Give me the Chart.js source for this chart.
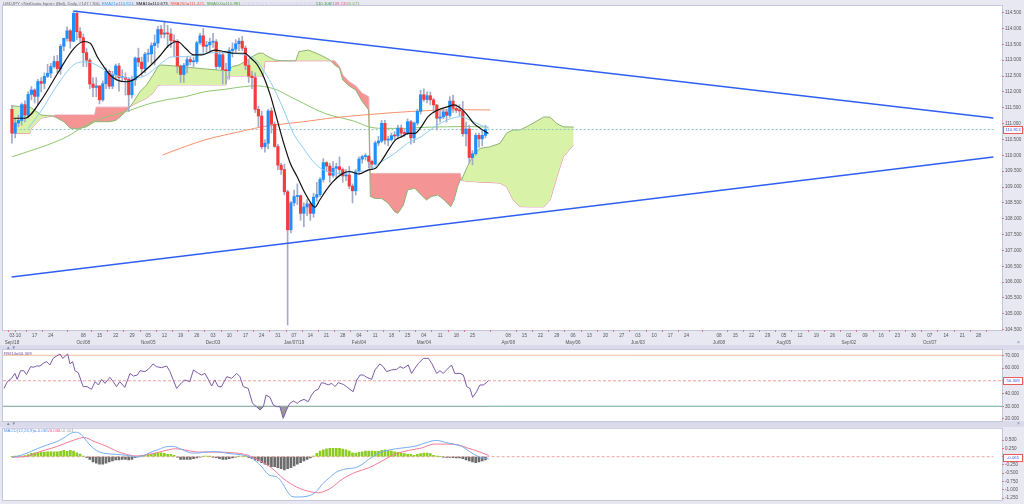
<!DOCTYPE html>
<html lang="en">
<head>
<meta charset="UTF-8" />
<title>USDJPY Daily</title>
<script src="https://cdn.jsdelivr.net/npm/chart.js"></script>
<style>
  body { margin:0; width:1024px; height:504px; overflow:hidden; position:relative; background:#e8e8f3; font-family:"Liberation Sans", Arial, sans-serif; }
  canvas { position:absolute; left:0; }
  .strip { position:absolute; left:0; width:1024px; background:#dadaea; }
  .hdr { position:absolute; font-size:4.3px; line-height:5px; white-space:nowrap; color:#666; }
  .box { position:absolute; left:1003px; width:18px; height:6px; border:1px solid #e65a5a; background:#fff; color:#3a55e0; font-size:4.3px; line-height:6px; text-align:center; }
  .arr { position:absolute; left:6px; font-size:4.5px; color:#7a88aa; letter-spacing:1px; }
  .cls { position:absolute; left:1017px; font-size:5px; color:#7a88b8; }
</style>
</head>
<body>
  <div class="strip" style="top:345px;height:5px"></div>
  <div class="strip" style="top:421px;height:6px"></div>

  <canvas id="mainChart" width="1024" height="347" style="top:0"></canvas>
  <canvas id="rsiChart" width="1024" height="85" style="top:340px"></canvas>
  <canvas id="macdChart" width="1024" height="79" style="top:425px"></canvas>

  <div class="hdr" style="left:3px;top:0.5px">USDJPY &lt;NetDania fxpro&gt; (Bid), Daily, #147 / 300, <span style="color:#3aa2f0">EMA21=110.824</span>, <span style="color:#111">SMA10=110.673</span>, <span style="color:#f0522a">SMA200=111.421</span>, <span style="color:#4a9c3a">SMA100=110.881</span> <span style="color:#cfd0e2">ICHIMOKU(9,26,52)=110.826/110.820/</span><span style="color:#2f8a2f">110.106</span><span style="color:#e0588c">/109.135</span><span style="color:#7ab04a">/0.071</span></div>
  <div class="hdr" style="left:4px;top:351px;color:#6a4a9c">RSI14=50.309</div>
  <div class="hdr" style="left:4px;top:428px"><span style="color:#4a8ef0">MACD(12,26,9)=-0.065</span><span style="color:#f0507a">/0.036</span><span style="color:#999">/-0.101</span></div>

  <div class="arr" style="top:344.5px">▲▼</div>
  <div class="arr" style="top:421px">▲▼</div>
  <div class="cls" style="top:339px">×</div>
  <div class="cls" style="top:420px">×</div>

  <div class="box" style="top:125.5px">110.813</div>
  <div class="box" style="top:376.5px">50.309</div>
  <div class="box" style="top:453.5px">-0.065</div>

<script>
// daily candles, one per trading day (index 0 = Sep 6 2018, 146 = Mar 29 2019)
const open = [111.45,110.70,111.02,111.10,111.60,111.27,111.92,112.06,111.86,112.33,
  112.27,112.49,112.59,112.80,112.96,112.73,113.44,113.69,113.93,113.60,
  114.48,113.90,113.71,113.24,113.00,112.25,112.14,112.19,111.75,112.26,
  112.65,112.18,112.54,112.82,112.45,112.46,112.40,111.91,112.38,113.07,
  112.94,112.73,113.19,113.20,113.46,113.54,113.97,113.82,113.86,113.83,
  113.62,113.59,112.82,112.55,112.84,113.02,112.95,112.96,113.55,113.77,
  113.44,113.48,113.57,113.58,112.80,113.17,112.70,112.67,113.30,113.35,
  113.52,113.60,113.38,112.84,112.50,112.45,111.45,111.24,110.27,110.38,
  111.40,110.98,110.28,109.69,109.55,108.85,107.65,108.50,108.70,108.73,
  108.17,108.37,108.47,108.17,108.68,108.76,109.24,109.77,109.66,109.37,
  109.59,109.64,109.55,109.35,109.38,109.03,108.88,109.50,109.88,109.96,
  109.97,109.81,109.72,110.39,110.45,111.01,110.48,110.50,110.62,110.61,
  110.86,110.70,110.69,111.06,110.55,111.02,111.39,111.91,111.76,111.88,
  111.75,111.59,111.17,111.21,111.37,111.26,111.71,111.48,111.42,111.40,
  110.68,110.83,109.93,110.05,110.63,110.52,110.63];
const high = [111.58,111.15,111.27,111.65,111.72,112.00,112.17,112.10,112.40,112.45,
  112.60,112.87,112.90,113.13,113.15,113.50,113.70,114.05,113.97,114.55,
  114.55,114.03,113.83,113.37,113.05,112.45,112.45,112.20,112.35,112.75,
  112.70,112.65,112.88,112.90,112.70,112.60,112.45,112.50,113.10,113.38,
  113.10,113.25,113.35,113.55,113.80,114.07,114.10,114.21,114.10,114.00,
  113.80,113.65,112.85,112.90,113.10,113.10,113.10,113.60,113.85,114.00,
  113.60,113.70,113.85,113.65,113.30,113.25,112.90,113.40,113.55,113.65,
  113.70,113.75,113.45,113.00,112.65,112.60,111.55,111.40,110.50,111.45,
  111.50,111.05,110.35,109.75,109.72,108.90,108.55,108.90,109.10,108.75,
  108.50,108.60,108.50,108.80,109.15,109.30,109.90,109.80,109.75,109.80,
  109.75,109.95,109.60,109.55,109.65,109.10,109.55,109.95,110.00,110.05,
  110.00,109.85,110.45,110.60,111.10,111.10,110.60,110.70,110.75,110.95,
  110.95,110.80,111.15,111.10,111.05,111.45,112.05,112.10,112.00,112.00,
  111.80,111.60,111.40,111.45,111.45,111.85,111.90,111.60,111.60,111.70,
  111.05,110.95,110.15,110.70,110.70,110.80,110.95];
const low = [110.38,110.55,110.90,110.95,111.05,111.20,111.75,111.65,111.60,112.00,
  112.10,112.45,112.45,112.75,112.60,112.55,113.30,113.60,113.38,113.58,
  113.65,113.58,112.80,112.80,112.10,111.85,111.85,111.62,111.70,112.10,
  112.10,112.10,112.40,112.02,112.35,111.90,111.38,111.80,112.20,112.80,
  112.50,112.60,112.95,112.90,112.85,113.40,113.70,113.70,113.40,113.40,
  113.10,112.60,112.30,112.30,112.60,112.85,112.80,112.90,113.50,113.25,
  113.25,113.25,113.40,112.70,112.75,112.25,112.25,112.40,113.10,113.25,
  113.30,113.30,112.70,112.30,112.10,111.35,110.90,110.20,110.10,110.20,
  110.70,110.25,109.55,109.40,108.75,104.65,107.55,108.40,108.45,107.95,
  107.75,108.10,107.95,108.05,108.55,108.70,109.15,109.50,109.15,109.30,
  109.30,109.40,109.15,109.20,108.95,108.50,108.75,109.40,109.75,109.85,
  109.60,109.55,109.70,110.30,110.40,110.35,110.30,110.45,110.50,110.55,
  110.60,110.60,110.65,110.35,110.40,110.95,111.30,111.70,111.65,111.60,
  111.35,110.80,111.05,111.15,111.05,111.20,111.35,111.35,111.25,110.60,
  110.30,109.75,109.70,110.00,110.25,110.30,110.55];
const close = [110.70,111.02,111.10,111.60,111.27,111.92,112.06,111.86,112.33,112.27,
  112.49,112.59,112.80,112.96,112.73,113.44,113.69,113.93,113.60,114.48,
  113.90,113.71,113.24,113.00,112.25,112.14,112.19,111.75,112.26,112.65,
  112.18,112.54,112.82,112.45,112.46,112.40,111.91,112.38,113.07,112.94,
  112.73,113.19,113.20,113.46,113.54,113.97,113.82,113.86,113.83,113.62,
  113.59,112.82,112.55,112.84,113.02,112.95,112.96,113.55,113.77,113.44,
  113.48,113.57,113.58,112.80,113.17,112.70,112.67,113.30,113.35,113.52,
  113.60,113.38,112.84,112.50,112.45,111.45,111.24,110.27,110.38,111.40,
  110.98,110.28,109.69,109.55,108.85,107.65,108.50,108.70,108.73,108.17,
  108.37,108.47,108.17,108.68,108.76,109.24,109.77,109.66,109.37,109.59,
  109.64,109.55,109.35,109.38,109.03,108.88,109.50,109.88,109.96,109.97,
  109.81,109.72,110.39,110.45,111.01,110.48,110.50,110.62,110.61,110.86,
  110.70,110.69,111.06,110.55,111.02,111.39,111.91,111.76,111.88,111.75,
  111.59,111.17,111.21,111.37,111.26,111.71,111.48,111.42,111.40,110.68,
  110.83,109.93,110.05,110.63,110.52,110.63,110.81];

// moving averages: [day index, price]
const sma10 = [[0.5,111.17],[4,111.17],[9.1,111.75],[14.1,112.59],[19.2,113.38],[22.2,113.59],[24.2,113.53],
  [26.3,113.11],[28.3,112.80],[30.3,112.53],[32.3,112.38],[35.3,112.32],[37.4,112.38],[39.4,112.53],
  [42.4,112.80],[45.4,113.11],[48.5,113.48],[51,113.59],[53.5,113.38],[56,113.17],[58.6,113.17],
  [62.6,113.32],[65.6,113.27],[68.7,113.22],[71.7,113.22],[73.7,113.06],[75.7,112.85],[77.8,112.43],
  [79.8,111.85],[81.8,111.11],[83.8,110.38],[85.8,109.75],[87.9,109.33],[89.9,108.90],[91.9,108.54],
  [93.4,108.36],[94.9,108.59],[96.9,108.90],[99,109.17],[102,109.43],[104,109.49],[107,109.41],
  [110,109.54],[112.1,109.59],[114.1,109.85],[116.1,110.17],[118.2,110.48],[120.2,110.59],[122.2,110.69],
  [124.2,110.69],[126.2,110.90],[128.3,111.22],[131.3,111.43],[134.3,111.53],[136.3,111.59],[138.4,111.48],
  [140.4,111.27],[142.4,111.01],[144.4,110.85],[146.9,110.69]];
const ema21 = [[5,110.85],[9,111.40],[14,112.22],[19,112.85],[23,112.95],[26,112.85],[29.3,112.65],
  [33.3,112.48],[37.4,112.43],[41.4,112.53],[45.4,112.85],[49.5,113.11],[53.5,113.11],[56.6,113.17],
  [59.6,113.22],[63.6,113.24],[67.7,113.22],[71.7,113.17],[74.7,113.06],[77.8,112.65],[80.8,112.10],
  [83.8,111.43],[86.8,110.69],[89.9,110.22],[92.9,109.80],[96,109.54],[99,109.45],[102,109.43],
  [106,109.48],[110,109.54],[114,109.80],[118,110.06],[122,110.38],[126.2,110.59],[130.3,110.90],
  [134.3,111.12],[138.4,111.22],[141.4,111.10],[144.4,110.96],[146.9,110.85]];
const sma100 = [[0,109.95],[5,110.12],[11,110.33],[17,110.59],[23,110.96],[29.3,111.22],[35.3,111.38],
  [41.4,111.60],[47.5,111.75],[53.5,111.85],[59.6,112.01],[65.6,112.08],[71.7,112.17],[75.7,112.19],
  [77.8,112.17],[81.8,112.06],[85.8,111.85],[89.9,111.64],[94,111.43],[98,111.27],[102,111.17],
  [106,111.06],[110,110.90],[114,110.85],[122,110.85],[126,110.88],[134.3,110.90],[140,110.91],[147,110.89]];
const sma200 = [[46.4,110.01],[53.5,110.28],[59.6,110.49],[65.6,110.64],[71.7,110.78],[77.8,110.91],
  [83.8,110.99],[89.9,111.06],[98,111.17],[108,111.27],[118,111.35],[128.3,111.41],[138.4,111.44],[147.5,111.43]];

// ichimoku cloud edges: [day index, span A, span B]
const cloud = [[0,111.56,110.69],[5.5,111.52,110.69],[6,111.50,110.85],[9,111.27,111.17],[12.5,111.24,111.24],
  [13.5,111.20,111.27],[16,111.06,111.27],[18,110.85,111.27],[21,110.85,111.27],[23,110.90,111.27],
  [25.5,111.06,111.27],[26,111.06,111.52],[30,111.06,111.52],[32,111.10,111.52],[34,111.27,111.52],
  [36.3,111.52,111.52],[37.5,111.69,111.60],[39.5,112.01,111.70],[41.5,112.22,111.80],[43.5,112.53,111.96],
  [45,112.80,112.20],[46,112.85,112.22],[50,112.82,112.22],[55,112.77,112.22],[60,112.72,112.22],
  [66,112.67,112.22],[66.5,112.67,112.50],[68,112.80,112.50],[70,112.85,112.50],[72,112.96,112.50],
  [74,113.11,112.50],[76,113.22,112.50],[77.5,113.22,112.50],[78,113.17,112.96],[81,113.01,112.96],
  [83.3,112.98,112.98],[87.5,112.98,112.98],[88.5,113.27,112.98],[91.4,113.32,112.98],[95,113.17,112.98],
  [98,113.01,112.98],[99.5,112.85,112.98],[101,112.75,112.80],[102,112.38,112.53],[104,112.19,112.32],
  [106,112.06,112.19],[108,111.70,111.96],[110,111.43,111.85],[110.5,108.70,109.43],[112,108.64,109.43],
  [114,108.64,109.43],[116,108.49,109.43],[118,108.22,109.43],[119,108.17,109.43],[120.7,108.43,109.43],
  [122,108.91,109.43],[124.2,108.96,109.43],[126.2,108.75,109.43],[127.8,108.59,109.43],[129.3,108.70,109.43],
  [131.3,108.75,109.43],[133.3,108.59,109.43],[135.3,108.38,109.43],[136.3,108.59,109.43],[137.4,109.01,109.43],
  [138.2,109.22,109.43],[138.6,109.22,109.22],[140.4,109.64,109.17],[142.4,110.04,109.17],[144.4,110.22,109.15],
  [147.5,110.27,109.14],[150.5,110.38,109.12],[152.5,110.70,109.01],[154.5,110.80,108.60],[156.6,110.80,108.38],
  [159.6,110.95,108.37],[164,111.21,108.37],[166,111.20,108.60],[168,111.00,109.30],[170,110.90,109.95],
  [173.2,110.89,110.33]];

// trend lines and last price
const trendUpper = [[19,114.55],[302.6,111.18]];
const trendLower = [[-0.1,106.16],[302.6,109.95]];
const lastPrice = 110.813;

// RSI(14): [day index, value]
const rsi = [[0.2,44.0],[1.2,49.3],[2.5,51.9],[3.5,55.8],[4.2,51.1],[5.2,57.9],[6.2,57.9],[7,55.0],[8.3,61.1],
  [9.1,60.6],[10.1,61.6],[11.1,61.6],[12.1,63.7],[13.1,65.0],[14.1,62.4],[15.1,67.6],[16.1,69.4],[17.2,71.0],
  [18,67.6],[19.5,71.0],[20.2,63.2],[21,65.0],[21.7,57.9],[22.7,56.4],[24.2,45.4],[25.4,45.4],[26.7,43.3],
  [27.8,49.3],[28.8,46.7],[29.8,51.1],[30.8,48.0],[32.3,52.7],[33.3,49.3],[34.3,45.4],[35.3,49.3],[36.8,44.8],
  [38.4,55.8],[39.4,53.7],[40.6,54.5],[41.4,57.9],[42.9,57.2],[43.9,59.0],[45.4,63.2],[46.4,61.1],[47.9,60.3],
  [49.5,61.6],[50.5,57.2],[51.5,50.6],[52.5,44.0],[54,48.5],[55,50.6],[56.5,49.3],[57.6,58.5],[59.1,55.8],
  [60.1,54.5],[61.1,55.8],[62.1,51.1],[63.1,45.9],[64.1,50.6],[65.1,45.4],[66.1,45.4],[67.7,53.2],[69.2,51.9],
  [70.7,55.8],[71.7,53.2],[72.7,45.4],[74.2,44.0],[75.5,32.3],[76.7,29.7],[77.8,27.1],[78.8,29.7],[79.6,38.8],
  [80.8,37.0],[81.8,31.0],[82.8,29.7],[83.8,29.7],[84.8,20.5],[85.8,27.1],[86.8,32.3],[87.9,34.1],[89.1,32.3],
  [89.9,34.1],[91.1,35.4],[92.4,33.6],[93.4,38.8],[94.4,42.2],[95.4,43.3],[96.4,48.5],[97.4,48.0],[98.4,46.7],
  [99.5,48.0],[100.5,45.4],[101.5,48.5],[103,47.2],[104,45.4],[105,43.3],[106,41.4],[107.1,50.6],[108.1,54.5],
  [109.1,54.5],[110.1,52.7],[111.6,51.1],[112.6,58.5],[114.1,63.2],[115.1,61.1],[116.1,57.2],[117.6,58.5],
  [119.2,59.0],[120.2,61.1],[121.2,59.8],[122.7,62.4],[123.7,55.8],[124.7,59.8],[125.8,63.7],[127.3,67.6],
  [128.8,67.6],[129.8,63.7],[131.3,55.8],[132.3,57.9],[133.3,55.8],[134.3,58.5],[135.8,62.4],[136.8,55.8],
  [138.4,55.8],[139.4,54.5],[140.4,45.4],[141.4,44.0],[142.2,37.0],[143.4,41.4],[144.4,46.7],[145.4,46.7],
  [146.4,48.5],[147,50.3]];

// MACD(12,26,9): lines as [day index, value], histogram one bar per day
const macdLine = [[0,-0.03],[3,0.05],[5,0.12],[8,0.25],[11,0.36],[14,0.46],[16.5,0.60],[18,0.70],[19.5,0.74],
  [21,0.70],[22.3,0.56],[23.8,0.38],[25.3,0.24],[27,0.14],[29.3,0.09],[32.3,0.07],[35.3,0.04],[37.5,0.00],
  [39,-0.01],[41.4,0.07],[43.5,0.16],[45.3,0.22],[47.5,0.30],[49.5,0.31],[51.4,0.26],[53.5,0.17],[55.6,0.11],
  [57.5,0.11],[59.6,0.14],[62,0.15],[64.4,0.14],[66.4,0.10],[69.7,0.07],[72.2,0.03],[73.8,-0.03],[76.8,-0.28],
  [79.2,-0.55],[81.8,-0.62],[83.2,-0.77],[84.7,-1.02],[86.3,-1.20],[88,-1.22],[90,-1.21],[92,-1.17],
  [93.8,-1.06],[95.8,-0.82],[98,-0.63],[100,-0.47],[103,-0.37],[106,-0.33],[108,-0.23],[110,-0.08],
  [113.2,0.11],[116.2,0.20],[120,0.26],[124,0.31],[127,0.40],[129.7,0.48],[131,0.49],[133,0.45],[136,0.38],
  [139,0.30],[141,0.16],[143.5,0.02],[145,-0.04],[147,-0.065]];
const signalLine = [[0,-0.02],[5,0.02],[9,0.165],[14,0.31],[19.3,0.51],[22.3,0.58],[25.3,0.46],[29.3,0.31],
  [32.3,0.165],[35.3,0.07],[38.4,0.02],[42.3,0.07],[46.5,0.165],[50.5,0.24],[53.5,0.20],[57.5,0.14],
  [59.6,0.14],[65.6,0.13],[71.7,0.07],[75.6,-0.08],[79.9,-0.33],[83.8,-0.67],[87.8,-0.92],[92,-1.06],
  [94.4,-1.09],[98,-0.97],[102,-0.67],[106,-0.47],[110.2,-0.33],[114.1,-0.13],[118,0.07],[122.3,0.19],
  [126.2,0.26],[130.2,0.38],[134.4,0.38],[137.5,0.36],[140.5,0.26],[142.3,0.21],[147,0.036]];
const macdHist = [0.00,0.01,0.02,0.02,0.03,0.06,0.10,0.12,0.13,0.14,
  0.14,0.15,0.15,0.15,0.15,0.16,0.19,0.16,0.19,0.17,
  0.12,0.08,0.02,-0.02,-0.08,-0.16,-0.20,-0.23,-0.23,-0.20,
  -0.16,-0.13,-0.10,-0.10,-0.08,-0.08,-0.10,-0.08,-0.03,0.02,
  0.04,0.04,0.06,0.07,0.10,0.12,0.12,0.10,0.07,0.07,
  0.04,-0.01,-0.08,-0.08,-0.08,-0.08,-0.06,-0.04,-0.01,0.01,
  0.02,0.01,-0.01,-0.03,-0.06,-0.08,-0.08,-0.06,-0.04,-0.01,
  0.01,0.02,0.01,-0.02,-0.06,-0.10,-0.13,-0.18,-0.23,-0.26,
  -0.30,-0.30,-0.33,-0.36,-0.40,-0.36,-0.33,-0.28,-0.23,-0.18,
  -0.13,-0.08,-0.04,0.02,0.10,0.17,0.21,0.24,0.25,0.25,
  0.25,0.25,0.23,0.21,0.17,0.12,0.11,0.13,0.15,0.17,
  0.17,0.17,0.16,0.16,0.19,0.21,0.19,0.17,0.15,0.13,
  0.11,0.09,0.07,0.07,0.04,0.07,0.09,0.11,0.11,0.09,
  0.04,0.01,0.00,-0.01,-0.02,-0.02,-0.03,-0.04,-0.04,-0.06,
  -0.10,-0.13,-0.16,-0.18,-0.16,-0.13,-0.10];

// date axis: Monday ticks (future slots run one day later)
const tickIdx = [0,2,7,12,22,27,32,37,42,47,52,57,62,67,72,77,82,87,92,97,102,107,112,117,122,127,132,137,142,
  153,158,163,168,173,178,183,188,193,198,203,208,218,223,228,233,238,243,248,253,258,263,268,273,278,283,288,293,298];
const tickDay = ['03','10','17','24','08','15','22','29','05','12','19','26','03','10','17','24','31','07','14','21','28',
  '04','11','18','25','04','11','18','25','08','15','22','29','06','13','20','27','03','10','17','24','08','15','22','29',
  '05','12','19','26','02','09','16','23','30','07','14','21','28'];
const tickMonth = {0:'Sep/18',22:'Oct/08',42:'Nov/05',62:'Dec/03',87:'Jan/07/19',107:'Feb/04',127:'Mar/04',
  153:'Apr/08',173:'May/06',193:'Jun/03',218:'Jul/08',238:'Aug/05',258:'Sep/02',283:'Oct/07'};

const priceTicks = [104.5,105,105.5,106,106.5,107,107.5,108,108.5,109,109.5,110,110.5,111,111.5,112,112.5,113,113.5,114,114.5];
const rsiTicks = [20,30,40,50,60,70];
const macdTicks = [-1.25,-1,-0.75,-0.5,-0.25,0,0.25,0.5];

const X_MIN = -0.1, X_MAX = 302.6;
const UP = '#1e8fff', DOWN = '#f43c3c';
const tickFont = { size: 4.6, family: '"Liberation Sans", Arial, sans-serif' };

// white plot area with a thin frame
const panelBg = {
  id: 'panelBg',
  beforeDraw(chart) {
    const { ctx, chartArea: a } = chart;
    ctx.save();
    ctx.fillStyle = '#fff';
    ctx.fillRect(a.left, a.top, a.width, a.height);
    ctx.strokeStyle = '#c6c6da';
    ctx.lineWidth = 1;
    ctx.strokeRect(a.left - 0.5, a.top - 0.5, a.width + 1, a.height + 1);
    ctx.restore();
  }
};

const pts = arr => arr.map(p => ({ x: p[0], y: p[1] }));

function line(data, color, width, order, extra) {
  return Object.assign({ type: 'line', data, borderColor: color, borderWidth: width, pointRadius: 0, order }, extra || {});
}
function hLine(v, color, dash, order) {
  return line([{ x: X_MIN, y: v }, { x: X_MAX, y: v }], color, 1, order, { borderDash: dash });
}

function xScale(show) {
  return {
    type: 'linear', min: X_MIN, max: X_MAX, display: show,
    afterBuildTicks: s => { s.ticks = tickIdx.map(v => ({ value: v })); },
    afterFit: s => { s.height = show ? 17 : 0; },
    grid: { drawOnChartArea: false, tickLength: 2, color: '#e47878' },
    border: { display: false },
    ticks: {
      autoSkip: false, maxRotation: 0, padding: 1, color: '#555',
      font: Object.assign({ lineHeight: 1.35 }, tickFont),
      callback: (v, k) => tickMonth[tickIdx[k]] ? [tickDay[k], tickMonth[tickIdx[k]]] : tickDay[k]
    }
  };
}
function yScale(min, max, ticks) {
  return {
    type: 'linear', position: 'right', min, max,
    afterBuildTicks: s => { s.ticks = ticks.map(v => ({ value: v })); },
    afterFit: s => { s.width = 22; },
    grid: { drawOnChartArea: false, tickLength: 2, color: '#e47878' },
    border: { display: false },
    ticks: { autoSkip: false, padding: 1, color: '#555', font: tickFont, callback: v => v.toFixed(3) }
  };
}
function baseOptions(padding, showX, yMin, yMax, yTicks) {
  return {
    responsive: false, animation: false, events: [],
    layout: { autoPadding: false, padding },
    plugins: { legend: { display: false }, tooltip: { enabled: false } },
    scales: { x: xScale(showX), y: yScale(yMin, yMax, yTicks) }
  };
}

// price panel
new Chart(document.getElementById('mainChart'), {
  type: 'line',
  data: {
    datasets: [
      line(pts(trendUpper), '#2f5ff2', 1.5, 0),
      line(pts(trendLower), '#2f5ff2', 1.5, 0),
      line(pts(sma10), '#111', 1.2, 1, { tension: 0.35, cubicInterpolationMode: 'monotone' }),
      line(pts(ema21), '#8dccf6', 1, 2, { tension: 0.35, cubicInterpolationMode: 'monotone' }),
      {
        type: 'bar', order: 3, grouped: false, barThickness: 2.5, minBarLength: 1,
        data: open.map((o, i) => ({ x: i, y: [o, close[i]] })),
        backgroundColor: open.map((o, i) => close[i] >= o ? UP : DOWN)
      },
      {
        type: 'bar', order: 4, grouped: false, barThickness: 1,
        data: low.map((l, i) => ({ x: i, y: [l, high[i]] })),
        backgroundColor: '#a2abc6'
      },
      line(pts(sma200), '#f7916e', 1, 5, { tension: 0.35, cubicInterpolationMode: 'monotone' }),
      line(pts(sma100), '#8fc872', 1, 6, { tension: 0.35, cubicInterpolationMode: 'monotone' }),
      hLine(lastPrice, '#8cc2c4', [2, 2], 7),
      line(cloud.map(c => ({ x: c[0], y: c[1] })), '#8fb374', 1, 8, {
        fill: { target: '+1', above: '#d8f3a8', below: '#f59494' }
      }),
      line(cloud.map(c => ({ x: c[0], y: c[2] })), '#e8a2c2', 1, 9)
    ]
  },
  options: baseOptions({ left: 3, top: 6, right: 0, bottom: 0 }, true, 104.49, 114.71, priceTicks),
  plugins: [panelBg]
});

// RSI panel
new Chart(document.getElementById('rsiChart'), {
  type: 'line',
  data: {
    datasets: [
      line(pts(rsi), '#7b5ca8', 1, 1, { fill: { target: { value: 30 }, above: 'rgba(0,0,0,0)', below: '#9a9a9a' } }),
      hLine(70, '#f7bb9e', [], 2),
      hLine(50, '#f29c9c', [3, 2], 2),
      hLine(30, '#70a595', [], 2)
    ]
  },
  options: baseOptions({ left: 3, top: 10, right: 0, bottom: 4 }, false, 18.43, 74.16, rsiTicks),
  plugins: [panelBg]
});

// MACD panel
new Chart(document.getElementById('macdChart'), {
  type: 'line',
  data: {
    datasets: [
      line(pts(macdLine), '#76aff4', 1, 1, { tension: 0.3, cubicInterpolationMode: 'monotone' }),
      line(pts(signalLine), '#f47b98', 1, 1, { tension: 0.3, cubicInterpolationMode: 'monotone' }),
      {
        type: 'bar', order: 2, grouped: false, barThickness: 2,
        data: macdHist.map((v, i) => ({ x: i, y: v })),
        backgroundColor: macdHist.map(v => v >= 0 ? '#8ccb22' : '#6c6c6c')
      },
      hLine(0, '#f3a4a4', [3, 2], 3)
    ]
  },
  options: baseOptions({ left: 3, top: 2, right: 0, bottom: 4 }, false, -1.31, 0.844, macdTicks),
  plugins: [panelBg]
});
</script>
</body>
</html>
